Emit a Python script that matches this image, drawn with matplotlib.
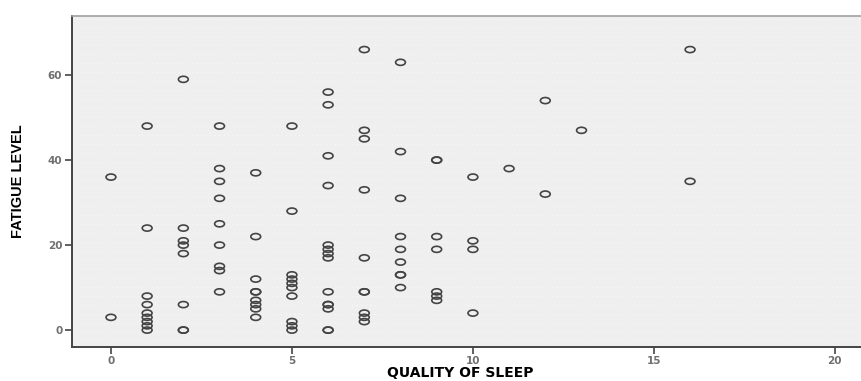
import matplotlib
matplotlib.use("Agg")
import matplotlib.pyplot as plt
import numpy as np
from matplotlib.path import Path

# quality of sleep score -> fatigue levels recorded at that score
sleep_scores = [0, 1, 2, 3, 4, 5, 6, 7, 8, 9, 10, 11, 12, 13, 16]
fatigue_by_score = [
    [36, 3],
    [48, 24, 8, 6, 4, 3, 2, 1, 0],
    [59, 24, 21, 20, 18, 6, 0, 0],
    [48, 38, 35, 31, 25, 20, 15, 14, 9],
    [37, 22, 12, 9, 9, 7, 6, 5, 3],
    [48, 28, 13, 12, 11, 10, 8, 2, 1, 0],
    [56, 53, 41, 34, 20, 19, 18, 17, 9, 6, 6, 5, 0, 0],
    [66, 47, 45, 33, 17, 9, 9, 4, 3, 2],
    [63, 42, 31, 22, 19, 16, 13, 13, 10],
    [40, 40, 22, 19, 9, 8, 7],
    [36, 21, 19, 4],
    [38],
    [54, 32],
    [47],
    [66, 35],
]
x_ticks = [0, 5, 10, 15, 20]
y_ticks = [0, 20, 40, 60]

quality = []
fatigue = []
for s, vals in zip(sleep_scores, fatigue_by_score):
    quality += [s] * len(vals)
    fatigue += vals

# flattened circle marker like the SPSS one
circ = Path.unit_circle()
ellipse = Path(circ.vertices * np.array([1.0, 0.62]), circ.codes)

fig = plt.figure(figsize=(8.62, 3.81), dpi=100)
ax = fig.add_axes([0.0835, 0.089, 0.9165, 0.869])
ax.set_facecolor("#efefef")

# faint dotted white rows in the background
for yy in np.arange(0.02, 1.0, 0.027):
    ax.axhline(yy * 73.9 - 4 * (1 - yy), color="white", lw=0.8,
               ls=(0, (0.6, 3.4)), zorder=0)

ax.scatter(quality, fatigue, marker=ellipse, s=50, facecolors="none",
           edgecolors="#444444", linewidths=1.2, zorder=3)

ax.set_xlim(-1.077, 20.75)
ax.set_ylim(-4.0, 73.9)
ax.set_xticks(x_ticks)
ax.set_yticks(y_ticks)

ax.spines["right"].set_visible(False)
ax.spines["top"].set_color("#a0a0a0")
ax.spines["top"].set_linewidth(1.2)
ax.spines["left"].set_color("#444444")
ax.spines["left"].set_linewidth(1.4)
ax.spines["bottom"].set_color("#444444")
ax.spines["bottom"].set_linewidth(1.4)

ax.tick_params(axis="both", direction="out", length=5, width=1.2,
               color="#444444", labelcolor="#707070", labelsize=7.5)
ax.tick_params(axis="x", pad=1.5)
ax.tick_params(axis="y", pad=2)
for lab in ax.get_xticklabels() + ax.get_yticklabels():
    lab.set_family("DejaVu Sans")
    lab.set_fontweight("bold")

# x title sits low, close to the bottom edge
fig.text(460 / 862, 1 - 373 / 381, "QUALITY OF SLEEP", fontsize=10,
         fontweight="bold", family="DejaVu Sans", ha="center", va="center")
ax.set_ylabel("FATIGUE LEVEL", fontsize=10.5, fontweight="bold",
              family=["Liberation Sans Narrow", "Liberation Sans"],
              labelpad=16)

fig.savefig("out.png", dpi=100)
